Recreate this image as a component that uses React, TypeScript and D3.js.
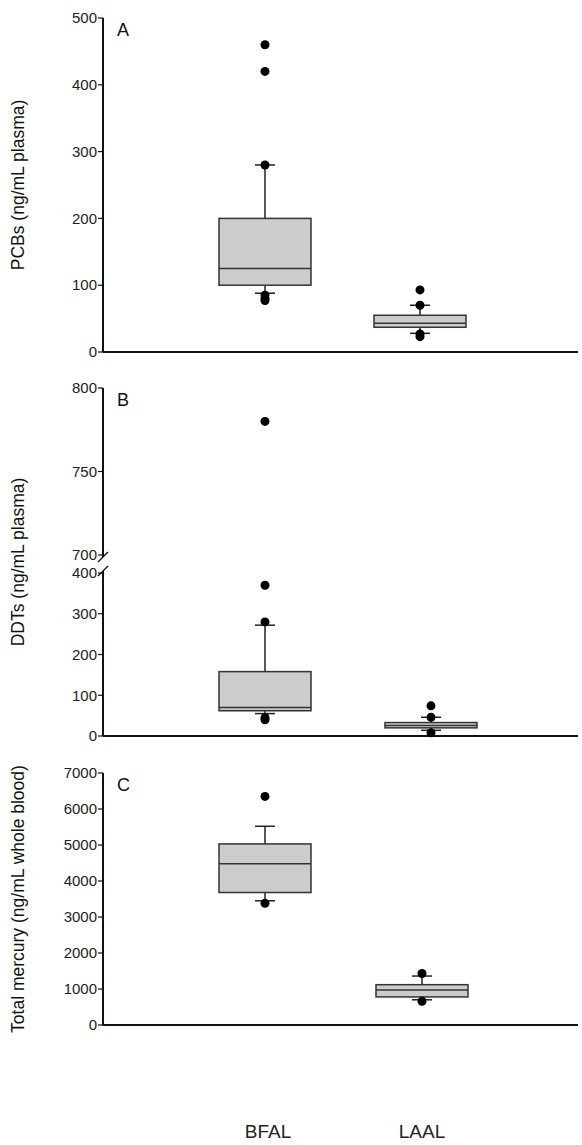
import React from "react";
import * as d3 from "d3";

const groups = ["BFAL", "LAAL"];
// [whiskerLow, q1, median, q3, whiskerHigh]
const pcbStats = [[88, 100, 125, 200, 280], [28, 37, 43, 55, 70]];
const pcbOut = [[460, 420, 280, 85, 80, 77], [93, 70, 27, 23]];
const ddtStats = [[55, 62, 70, 158, 272], [14, 20, 26, 33, 46]];
const ddtOut = [[780, 370, 280, 45, 40], [74, 46, 8]];
const hgStats = [[3450, 3680, 4480, 5030, 5520], [700, 780, 970, 1120, 1360]];
const hgOut = [[6350, 3380], [1430, 660]];
const pcbTicks = [0, 100, 200, 300, 400, 500];
const ddtTicks = [0, 100, 200, 300, 400, 700, 750, 800];
const hgTicks = [0, 1000, 2000, 3000, 4000, 5000, 6000, 7000];

const AX = 103, XR = 578;
const font = "Helvetica, Arial, 'Liberation Sans', sans-serif";

function Panel({ y, stats, out, ticks, letter, label, centers, breakAt }: any) {
  const x = (i: number) => centers[i];
  const y0 = y(0);
  const yTop = y(ticks[ticks.length - 1]);
  return (
    <g>
      {breakAt ? (
        <>
          <line x1={AX} x2={AX} y1={y0} y2={breakAt[0]} stroke="#111" strokeWidth={2} />
          <line x1={AX} x2={AX} y1={breakAt[1]} y2={yTop} stroke="#111" strokeWidth={2} />
          <line x1={AX - 5} x2={AX + 5} y1={breakAt[0] + 5} y2={breakAt[0] - 5} stroke="#111" strokeWidth={1.2} />
          <line x1={AX - 5} x2={AX + 5} y1={breakAt[1] + 5} y2={breakAt[1] - 5} stroke="#111" strokeWidth={1.2} />
        </>
      ) : (
        <line x1={AX} x2={AX} y1={y0} y2={yTop} stroke="#111" strokeWidth={2} />
      )}
      <line x1={AX} x2={XR} y1={y0} y2={y0} stroke="#111" strokeWidth={2} />
      {ticks.map((t: number) => (
        <g key={t}>
          <line x1={AX - 5} x2={AX} y1={y(t)} y2={y(t)} stroke="#111" strokeWidth={1.2} />
          <text x={AX - 6} y={y(t)} dy="0.35em" textAnchor="end" fontSize={15} fill="#222" fontFamily={font}>{t}</text>
        </g>
      ))}
      <text x={AX + 14} y={yTop + 18} fontSize={18} fontFamily={font} fill="#111">{letter}</text>
      <text transform={`translate(24,${(y0 + yTop) / 2}) rotate(-90)`} textAnchor="middle" fontSize={17.5} fontFamily={font} fill="#111">{label}</text>
      {stats.map((s: number[], i: number) => {
        const cx = x(i), hw = 46;
        return (
          <g key={i}>
            <line x1={cx} x2={cx} y1={y(s[0])} y2={y(s[1])} stroke="#222" strokeWidth={1.5} />
            <line x1={cx} x2={cx} y1={y(s[3])} y2={y(s[4])} stroke="#222" strokeWidth={1.5} />
            <line x1={cx - 10} x2={cx + 10} y1={y(s[0])} y2={y(s[0])} stroke="#222" strokeWidth={1.5} />
            <line x1={cx - 10} x2={cx + 10} y1={y(s[4])} y2={y(s[4])} stroke="#222" strokeWidth={1.5} />
            <rect x={cx - hw} width={hw * 2} y={y(s[3])} height={y(s[1]) - y(s[3])} fill="#cccccc" stroke="#333" strokeWidth={1.5} />
            <line x1={cx - hw} x2={cx + hw} y1={y(s[2])} y2={y(s[2])} stroke="#333" strokeWidth={1.5} />
            {out[i].map((o: number, j: number) => (
              <circle key={j} cx={cx} cy={y(o)} r={4.5} fill="#000" />
            ))}
          </g>
        );
      })}
    </g>
  );
}

export default function App() {
  const yA = d3.scaleLinear().domain([0, 500]).range([352, 18]);
  const yB = d3.scaleLinear().domain([0, 400, 700, 800]).range([736, 573, 555, 388]);
  const yC = d3.scaleLinear().domain([0, 7000]).range([1025, 773]);
  return (
    <svg width={582} height={1145} style={{ position: "absolute", left: 0, top: 0 }}>
      <rect width={582} height={1145} fill="#fff" />
      <Panel y={yA} stats={pcbStats} out={pcbOut} ticks={pcbTicks} letter="A" label="PCBs (ng/mL plasma)" centers={[265, 420]} />
      <Panel y={yB} stats={ddtStats} out={ddtOut} ticks={ddtTicks} letter="B" label="DDTs (ng/mL plasma)" centers={[265, 431]} breakAt={[571, 557]} />
      <Panel y={yC} stats={hgStats} out={hgOut} ticks={hgTicks} letter="C" label="Total mercury (ng/mL whole blood)" centers={[265, 422]} />
      {groups.map((g, i) => (
        <text key={g} x={[268, 422][i]} y={1138} textAnchor="middle" fontSize={19} fontFamily={font} fill="#222">{g}</text>
      ))}
    </svg>
  );
}
